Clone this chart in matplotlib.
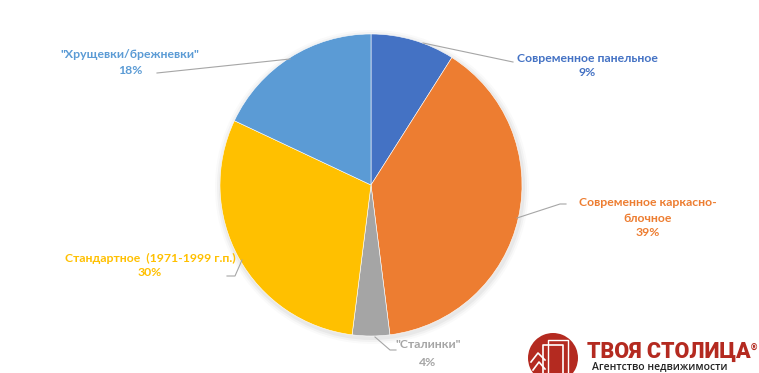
import matplotlib
matplotlib.use("Agg")
import matplotlib.pyplot as plt
from matplotlib.patches import Circle, Wedge

# data
labels = ['Современное панельное', 'Современное каркасно-\nблочное', '"Сталинки"',
          'Стандартное  (1971-1999 г.п.)', '"Хрущевки/брежневки"']
shares = [9, 39, 4, 30, 18]
colors = ['#4472C4', '#ED7D31', '#A5A5A5', '#FFC000', '#5B9BD5']

W, H = 759, 373
fig = plt.figure(figsize=(W / 100, H / 100), dpi=100)
ax = fig.add_axes([0, 0, 1, 1])

cx, cy, r = 371, H - 185, 151

# soft shadow behind the pie
for i, a in enumerate([0.04, 0.03, 0.02]):
    ax.add_patch(Circle((cx + 1, cy - 2), r + 2 + i * 2, color='black', alpha=a, lw=0))

ax.pie(shares, colors=colors, startangle=90, counterclock=False,
       center=(cx, cy), radius=r, frame=True,
       wedgeprops=dict(linewidth=0.4, edgecolor='white'))
ax.set_xlim(0, W)
ax.set_ylim(0, H)
ax.set_aspect('equal')
ax.axis('off')

# label positions (pixels from top-left), leader lines
label_pos = [(587, 58), (648, 203), (428, 345), (150, 258), (130, 54)]
pct_pos = [(587, 73), (648, 233), (428, 362), (150, 272), (130, 70)]
leaders = [
    [(423, 43), (513, 62)],
    [(517, 218), (560, 204), (566, 204)],
    [(375, 337), (390, 350), (396, 350)],
    [(242, 260), (235, 276), (227, 276)],
    [(290, 59), (157, 73)],
]

font = ['Lato', 'DejaVu Sans']
for lab, pct, (tx, ty), (px, py), pts, c in zip(labels, shares, label_pos, pct_pos, leaders, colors):
    xs = [p[0] for p in pts]
    ys = [H - p[1] for p in pts]
    ax.plot(xs, ys, color='#A6A6A6', lw=0.8)
    lines = lab.split('\n')
    for k, line in enumerate(lines):
        ax.text(tx, H - ty - 15 * k, line, color=c, fontsize=8.8, fontweight='bold',
                family=font, ha='center', va='center')
    ax.text(px, H - py, f'{pct}%', color=c, fontsize=8.8, fontweight='bold',
            family=font, ha='center', va='center')

# logo
red = '#B42A20'
ax.add_patch(Wedge((553, H - 358), 25, 0, 360, color=red, lw=0))
ax.plot([543, 543, 563, 563], [H - 373, H - 345, H - 345, H - 373], color='white', lw=1.2)
ax.plot([548, 548, 568, 568], [H - 373, H - 340, H - 340, H - 373], color='white', lw=1.0)
ax.plot([531, 538, 545], [H - 362, H - 353, H - 360], color='white', lw=1.2)
ax.plot([533, 539, 545], [H - 370, H - 362, H - 369], color='white', lw=1.2)
ax.text(587, H - 352, 'ТВОЯ СТОЛИЦА', color=red, fontsize=15.5, fontweight='heavy',
        family=['Roboto', 'DejaVu Sans'], ha='left', va='center')
ax.text(750, H - 348, '®', color=red, fontsize=6, fontweight='bold', ha='left', va='center')
ax.text(592, H - 367, 'Агентство недвижимости', color='#222222', fontsize=7.5,
        fontweight='semibold', family=['Open Sans', 'DejaVu Sans'], ha='left', va='center')

fig.savefig('out.png', dpi=100)
